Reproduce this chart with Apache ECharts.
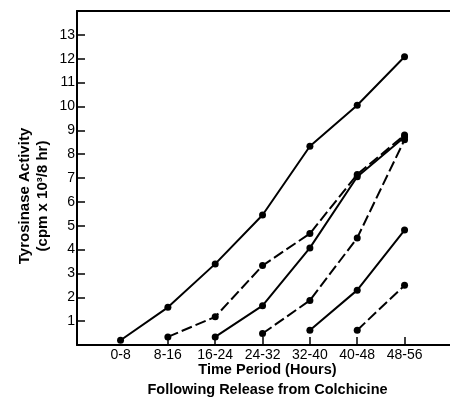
<!DOCTYPE html>
<html>
<head>
<meta charset="utf-8">
<script src="https://cdn.jsdelivr.net/npm/echarts@6/dist/echarts.min.js"></script>
<style>
  html, body { margin: 0; padding: 0; background: #fff; }
  #chart { width: 450px; height: 403px; }
</style>
</head>
<body>
<div id="chart"></div>
<script>
// time periods (hours) after release from colchicine
const periods = ['0-8', '8-16', '16-24', '24-32', '32-40', '40-48', '48-56']
const yTicks = [1, 2, 3, 4, 5, 6, 7, 8, 9, 10, 11, 12, 13]

// tyrosinase activity, cpm x 10^3 / 8 hr (null = not measured)
const series1 = [0.2, 1.58, 3.4, 5.45, 8.33, 10.05, 12.08]
const series2 = [null, 0.34, 1.18, 3.33, 4.67, 7.15, 8.8]
const series3 = [null, null, 0.34, 1.65, 4.07, 7.05, 8.72]
const series4 = [null, null, null, 0.48, 1.87, 4.49, 8.6]
const series5 = [null, null, null, null, 0.62, 2.3, 4.82]
const series6 = [null, null, null, null, null, 0.62, 2.5]

const allSeries = [
  { values: series1, dashed: false },
  { values: series2, dashed: true },
  { values: series3, dashed: false },
  { values: series4, dashed: true },
  { values: series5, dashed: false },
  { values: series6, dashed: true }
]

const toPairs = (vals) => vals.map((v, i) => [i, v]).filter(p => p[1] !== null)

const font = '"Liberation Sans", Arial, sans-serif'
const ink = '#000'

const chart = echarts.init(document.getElementById('chart'))

chart.setOption({
  animation: false,
  grid: { left: 77, top: 11, right: 0, bottom: 58, outerBoundsMode: 'none', containLabel: false },
  xAxis: [
    {
      type: 'value',
      min: -0.92,
      max: 6.96,
      splitLine: { show: false },
      axisLine: { onZero: false, lineStyle: { color: ink, width: 2 } },
      axisTick: {
        inside: true,
        length: 8,
        customValues: [1, 2, 3, 4, 5, 6],
        lineStyle: { color: ink, width: 1.5 }
      },
      axisLabel: {
        customValues: [0, 1, 2, 3, 4, 5, 6],
        formatter: (v) => periods[Math.round(v)],
        color: ink,
        fontFamily: font,
        fontSize: 14,
        margin: 3
      },
      name: 'Time Period (Hours)\nFollowing Release from Colchicine',
      nameLocation: 'middle',
      nameGap: 15,
      nameMoveOverlap: false,
      nameTextStyle: { color: ink, fontFamily: font, fontSize: 14.5, fontWeight: 'bold', lineHeight: 20, padding: [0, 0, 0, 8] }
    },
    {
      type: 'value',
      position: 'top',
      min: -0.92,
      max: 6.96,
      axisLine: { show: true, onZero: false, lineStyle: { color: ink, width: 2 } },
      axisTick: { show: false },
      axisLabel: { show: false },
      splitLine: { show: false }
    }
  ],
  yAxis: {
    type: 'value',
    min: 0,
    max: 14,
    interval: 1,
    splitLine: { show: false },
    axisLine: { show: true, onZero: false, lineStyle: { color: ink, width: 2 } },
    axisTick: {
      show: true,
      inside: true,
      length: 8,
      customValues: yTicks,
      lineStyle: { color: ink, width: 1.5 }
    },
    axisLabel: {
      customValues: yTicks,
      color: ink,
      fontFamily: font,
      fontSize: 14,
      margin: 2
    },
    name: 'Tyrosinase Activity\n(cpm x 10³/8 hr)',
    nameLocation: 'middle',
    nameGap: 25,
    nameMoveOverlap: false,
    nameTextStyle: {
      color: ink,
      fontFamily: font,
      fontSize: 15,
      fontWeight: 'bold',
      lineHeight: 18,
      padding: [0, 36, 0, 0]
    }
  },
  series: allSeries.map(s => ({
    type: 'line',
    data: toPairs(s.values),
    symbol: 'circle',
    symbolSize: 7,
    itemStyle: { color: ink },
    lineStyle: { color: ink, width: 2, type: s.dashed ? [11, 4] : 'solid' }
  }))
})
</script>
</body>
</html>
